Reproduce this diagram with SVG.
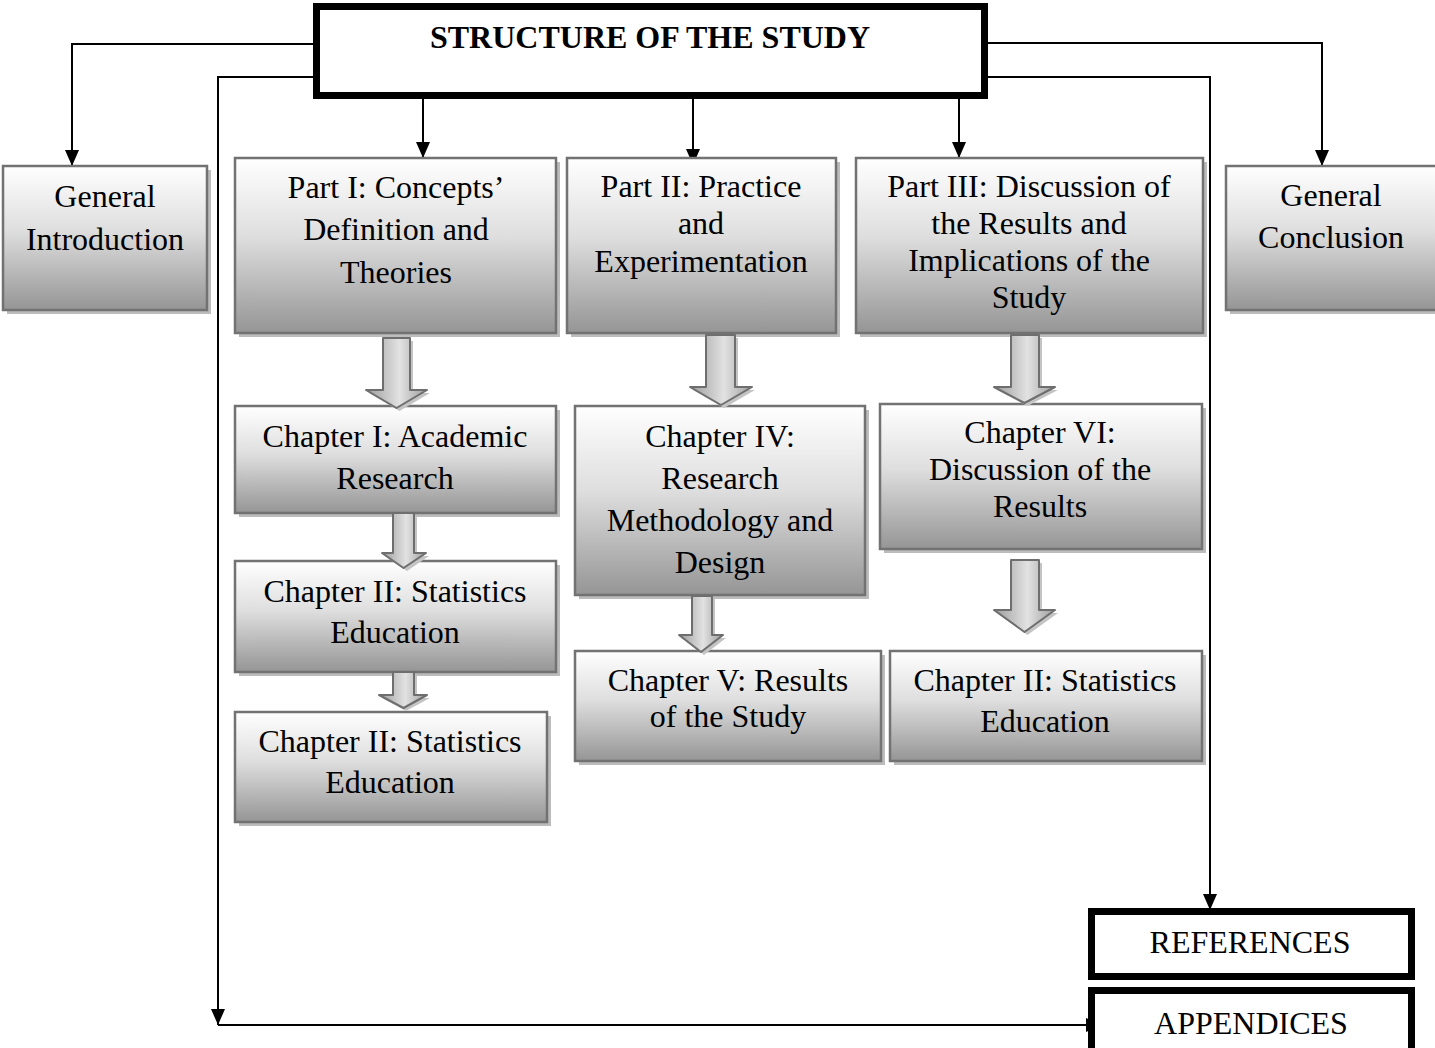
<svg xmlns="http://www.w3.org/2000/svg" width="1435" height="1048" viewBox="0 0 1435 1048">
<defs>
<linearGradient id="gbox" x1="0" y1="0" x2="0" y2="1">
<stop offset="0" stop-color="#ffffff"/>
<stop offset="0.45" stop-color="#dedede"/>
<stop offset="1" stop-color="#959595"/>
</linearGradient>
<linearGradient id="garr" x1="0" y1="0" x2="1" y2="0">
<stop offset="0" stop-color="#9c9c9c"/>
<stop offset="0.55" stop-color="#e2e2e2"/>
<stop offset="1" stop-color="#9c9c9c"/>
</linearGradient>
<marker id="ah" viewBox="0 0 16 14" refX="16" refY="7" markerWidth="16" markerHeight="14" markerUnits="userSpaceOnUse" orient="auto">
<path d="M0,0 L16,7 L0,14 z" fill="#000"/>
</marker>
</defs>
<style>
.sh{fill:#bcbcbc}
.bx{fill:url(#gbox);stroke:#727272;stroke-width:2.5}
.tb{fill:#fff;stroke:#000;stroke-width:7}
.t{font-family:"Liberation Serif","Times New Roman",serif;font-size:32px;fill:#000;text-anchor:middle}
.tt{font-family:"Liberation Serif","Times New Roman",serif;font-size:32px;font-weight:bold;fill:#000;text-anchor:middle}
.ln{fill:none;stroke:#000;stroke-width:2;marker-end:url(#ah)}
.ba{fill:url(#garr);stroke:#6e6e6e;stroke-width:2;stroke-linejoin:round}
.bs{fill:#c4c4c4}
</style>

<g id="connectors">
<path class="ln" d="M313,44 H72 V166"/>
<path class="ln" d="M313,77 H218 V1025"/>
<path class="ln" d="M218,1025 H1102"/>
<path class="ln" d="M423,97 V158"/>
<path class="ln" d="M693,97 V165"/>
<path class="ln" d="M959,97 V158"/>
<path class="ln" d="M988,43 H1322 V166"/>
<path class="ln" d="M988,77 H1210 V910"/>
</g>

<g id="title">
<rect class="tb" x="316.5" y="6.5" width="668" height="89"/>
<text class="tt" x="650" y="48">STRUCTURE OF THE STUDY</text>
</g>

<g id="general-introduction">
<rect class="sh" x="7" y="170" width="204" height="144"/>
<rect class="bx" x="3" y="166" width="204" height="144"/>
<text class="t" x="105" y="207">General</text>
<text class="t" x="105" y="250">Introduction</text>
</g>

<g id="part1">
<rect class="sh" x="239" y="162" width="321" height="175"/>
<rect class="bx" x="235" y="158" width="321" height="175"/>
<text class="t" x="396" y="198">Part I: Concepts’</text>
<text class="t" x="396" y="240">Definition and</text>
<text class="t" x="396" y="283">Theories</text>
</g>

<g id="part2">
<rect class="sh" x="571" y="162" width="269" height="175"/>
<rect class="bx" x="567" y="158" width="269" height="175"/>
<text class="t" x="701" y="197">Part II: Practice</text>
<text class="t" x="701" y="234">and</text>
<text class="t" x="701" y="272">Experimentation</text>
</g>

<g id="part3">
<rect class="sh" x="860" y="162" width="347" height="175"/>
<rect class="bx" x="856" y="158" width="347" height="175"/>
<text class="t" x="1029" y="197">Part III: Discussion of</text>
<text class="t" x="1029" y="234">the Results and</text>
<text class="t" x="1029" y="271">Implications of the</text>
<text class="t" x="1029" y="308">Study</text>
</g>

<g id="general-conclusion">
<rect class="sh" x="1230" y="170" width="210" height="144"/>
<rect class="bx" x="1226" y="166" width="212" height="144"/>
<text class="t" x="1331" y="206">General</text>
<text class="t" x="1331" y="248">Conclusion</text>
</g>

<g id="chapter1">
<rect class="sh" x="239" y="410" width="321" height="107"/>
<rect class="bx" x="235" y="406" width="321" height="107"/>
<text class="t" x="395" y="447">Chapter I: Academic</text>
<text class="t" x="395" y="489">Research</text>
</g>

<g id="chapter2a">
<rect class="sh" x="239" y="565" width="321" height="111"/>
<rect class="bx" x="235" y="561" width="321" height="111"/>
<text class="t" x="395" y="602">Chapter II: Statistics</text>
<text class="t" x="395" y="643">Education</text>
</g>

<g id="chapter2b">
<rect class="sh" x="239" y="716" width="312" height="110"/>
<rect class="bx" x="235" y="712" width="312" height="110"/>
<text class="t" x="390" y="752">Chapter II: Statistics</text>
<text class="t" x="390" y="793">Education</text>
</g>

<g id="chapter4">
<rect class="sh" x="579" y="410" width="290" height="189"/>
<rect class="bx" x="575" y="406" width="290" height="189"/>
<text class="t" x="720" y="447">Chapter IV:</text>
<text class="t" x="720" y="489">Research</text>
<text class="t" x="720" y="531">Methodology and</text>
<text class="t" x="720" y="573">Design</text>
</g>

<g id="chapter5">
<rect class="sh" x="579" y="655" width="306" height="110"/>
<rect class="bx" x="575" y="651" width="306" height="110"/>
<text class="t" x="728" y="691">Chapter V: Results</text>
<text class="t" x="728" y="727">of the Study</text>
</g>

<g id="chapter6">
<rect class="sh" x="884" y="408" width="322" height="145"/>
<rect class="bx" x="880" y="404" width="322" height="145"/>
<text class="t" x="1040" y="443">Chapter VI:</text>
<text class="t" x="1040" y="480">Discussion of the</text>
<text class="t" x="1040" y="517">Results</text>
</g>

<g id="chapter2c">
<rect class="sh" x="894" y="655" width="312" height="110"/>
<rect class="bx" x="890" y="651" width="312" height="110"/>
<text class="t" x="1045" y="691">Chapter II: Statistics</text>
<text class="t" x="1045" y="732">Education</text>
</g>

<g id="references">
<rect class="tb" x="1091.5" y="911.5" width="320" height="65"/>
<text class="t" x="1250" y="953">REFERENCES</text>
</g>

<g id="appendices">
<rect class="tb" x="1091.5" y="990.5" width="320" height="65"/>
<text class="t" x="1251" y="1034">APPENDICES</text>
</g>

<g id="block-arrows">
<polygon class="bs" points="386,341 413,341 413,393 430,393 399.5,411 369,393 386,393"/>
<polygon class="ba" points="383,338 410,338 410,390 427,390 396.5,408 366,390 383,390"/>
<polygon class="bs" points="396,516 417,516 417,556 429,556 407,571 385,556 396,556"/>
<polygon class="ba" points="393,513 414,513 414,553 426,553 403.5,568 382,553 393,553"/>
<polygon class="bs" points="396,675 417,675 417,698 430,698 406,711 382,698 396,698"/>
<polygon class="ba" points="393,672 414,672 414,695 427,695 403.5,708 379,695 393,695"/>
<polygon class="bs" points="709,338 738,338 738,390 755,390 724,408 693,390 709,390"/>
<polygon class="ba" points="706,335 735,335 735,387 752,387 721,405 690,387 706,387"/>
<polygon class="bs" points="695,599 715,599 715,638 726,638 704,655 682,638 695,638"/>
<polygon class="ba" points="692,596 712,596 712,635 723,635 701,652 679,635 692,635"/>
<polygon class="bs" points="1014,338 1042,338 1042,390 1058,390 1027.5,406 997,390 1014,390"/>
<polygon class="ba" points="1011,335 1039,335 1039,387 1055,387 1024.5,403 994,387 1011,387"/>
<polygon class="bs" points="1014,563 1042,563 1042,613 1058,613 1027.5,635 997,613 1014,613"/>
<polygon class="ba" points="1011,560 1039,560 1039,610 1055,610 1024.5,632 994,610 1011,610"/>
</g>
</svg>
